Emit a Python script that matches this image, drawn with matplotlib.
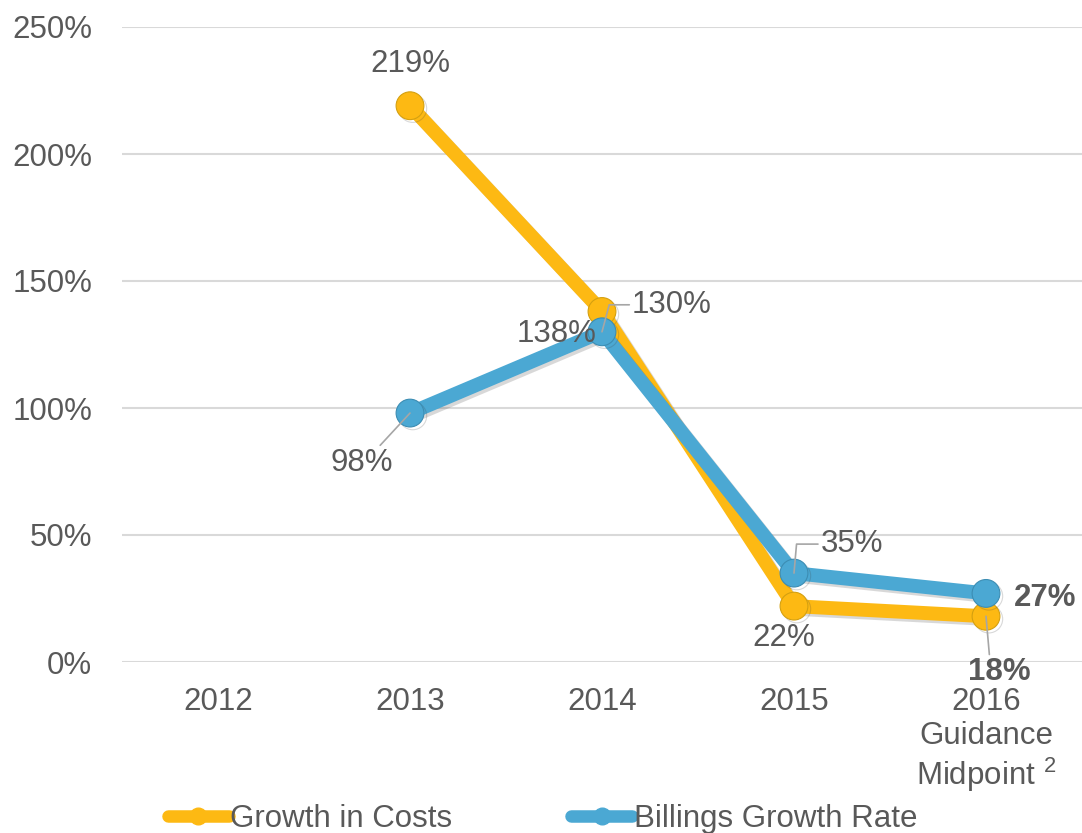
import matplotlib
matplotlib.use("Agg")
import matplotlib.pyplot as plt
import matplotlib.patheffects as pe
from matplotlib.lines import Line2D

plt.rcParams['font.family'] = ['Liberation Sans', 'DejaVu Sans']
plt.rcParams['mathtext.fontset'] = 'custom'
plt.rcParams['mathtext.rm'] = 'Liberation Sans'
plt.rcParams['mathtext.it'] = 'Liberation Sans'
plt.rcParams['mathtext.bf'] = 'Liberation Sans:bold'

categories = ["2012", "2013", "2014", "2015", "2016\nGuidance\nMidpoint $^{2}$"]
costs = [None, 219, 138, 22, 18]
billings = [None, 98, 130, 35, 27]
cost_labels = ["", "219%", "138%", "22%", "18%"]
bill_labels = ["", "98%", "130%", "35%", "27%"]
yticks = [0, 50, 100, 150, 200, 250]

ORANGE = "#FDB913"
BLUE = "#4BA8D3"
TXT = "#595959"
GRID = "#D9D9D9"
FS = 22.5

fig = plt.figure(figsize=(10.82, 8.33), dpi=100)
ax = fig.add_axes([122/1082, 1-662/833, 1-122/1082, (662-27)/833])

x = list(range(len(categories)))
xc = [i for i, v in zip(x, costs) if v is not None]
yc = [v for v in costs if v is not None]
xb = [i for i, v in zip(x, billings) if v is not None]
yb = [v for v in billings if v is not None]

shadow = [pe.SimpleLineShadow(offset=(2, -2), alpha=0.2, shadow_color='#404040'), pe.Normal()]
ax.plot(xc, yc, color=ORANGE, lw=10, marker='o', ms=20, mfc=ORANGE, mec='#D4A010', mew=0.8,
        solid_capstyle='round', zorder=3, path_effects=shadow)
ax.plot(xb, yb, color=BLUE, lw=10, marker='o', ms=20, mfc=BLUE, mec='#3C8DB3', mew=0.8,
        solid_capstyle='round', zorder=4, path_effects=shadow)

ax.set_xlim(-0.5, 4.5)
ax.set_ylim(0, 250)
ax.set_yticks(yticks)
ax.set_yticklabels([f"{v}%" for v in yticks])
ax.set_xticks(x)
ax.set_xticklabels(categories, linespacing=1.17)
ax.tick_params(axis='both', length=0, labelsize=FS, labelcolor=TXT)
ax.tick_params(axis='y', pad=21.5)
ax.tick_params(axis='x', pad=18)
ax.grid(axis='y', color=GRID, lw=1.5)
ax.set_axisbelow(True)
for s in ax.spines.values():
    s.set_visible(False)

lead = dict(arrowstyle='-', color='#A6A6A6', lw=1.2, shrinkA=0, shrinkB=0)
# Growth in Costs labels
ax.annotate(cost_labels[1], (1, costs[1]), xytext=(0, 42), textcoords='offset pixels',
            ha='center', va='center', fontsize=FS, color=TXT, zorder=6)
ax.annotate(cost_labels[2], (2, costs[2]), xytext=(-45, -23), textcoords='offset pixels',
            ha='center', va='center', fontsize=FS, color=TXT, zorder=6)
ax.annotate(cost_labels[3], (3, costs[3]), xytext=(-10, -32), textcoords='offset pixels',
            ha='center', va='center', fontsize=FS, color=TXT, zorder=6)
ax.annotate(cost_labels[4], (4, costs[4]), xytext=(13, -56), textcoords='offset pixels',
            ha='center', va='center', fontsize=FS, color=TXT, fontweight='bold', zorder=6,
            arrowprops=dict(lead, relpos=(0.35, 1.0)))
# Billings labels
ax.annotate(bill_labels[1], (1, billings[1]), xytext=(-48, -50), textcoords='offset pixels',
            ha='center', va='center', fontsize=FS, color=TXT, zorder=6,
            arrowprops=dict(lead, relpos=(0.75, 1.0)))
ax.annotate(bill_labels[2], (2, billings[2]), xytext=(70, 27), textcoords='offset pixels',
            ha='center', va='center', fontsize=FS, color=TXT, zorder=6,
            arrowprops=dict(lead, relpos=(0.0, 0.5), connectionstyle='angle,angleA=0,angleB=75,rad=0'))
ax.annotate(bill_labels[3], (3, billings[3]), xytext=(58, 29), textcoords='offset pixels',
            ha='center', va='center', fontsize=FS, color=TXT, zorder=6,
            arrowprops=dict(lead, relpos=(0.0, 0.5), connectionstyle='angle,angleA=0,angleB=85,rad=0'))
ax.annotate(bill_labels[4], (4, billings[4]), xytext=(59, -5), textcoords='offset pixels',
            ha='center', va='center', fontsize=FS, color=TXT, fontweight='bold', zorder=6)

handles = [Line2D([], [], color=ORANGE, lw=9, marker='o', ms=12, solid_capstyle='round'),
           Line2D([], [], color=BLUE, lw=9, marker='o', ms=12, solid_capstyle='round')]
fig.legend(handles, ["Growth in Costs", "Billings Growth Rate"], loc='center left',
           bbox_to_anchor=(168/1082, 1-819/833), ncol=2, frameon=False, fontsize=FS,
           labelcolor=TXT, handlelength=1.95, handletextpad=0.05, columnspacing=3.8,
           borderpad=0, borderaxespad=0)

fig.savefig("out.png", dpi=100)
